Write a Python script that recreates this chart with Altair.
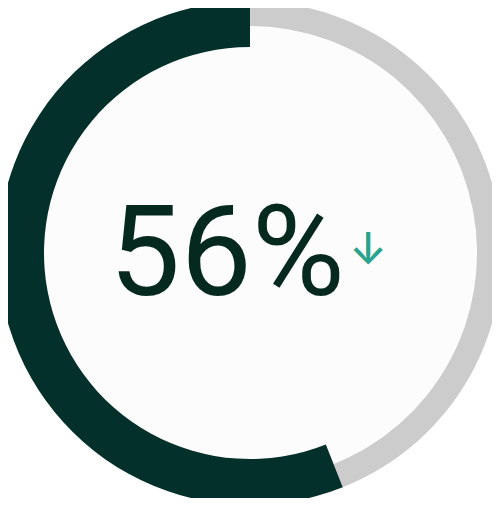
import altair as alt
import pandas as pd

# data
categories = ["remaining", "share"]
values = [44, 56]
order = [0, 1]
headline = "56%"
trend = "↓"

df = pd.DataFrame({"category": categories, "value": values, "order": order})
txt = pd.DataFrame({"headline": [headline], "trend": [trend]})

CX, CY = 242, 245
R_OUT = 252

base = alt.Chart(df).transform_stack(
    stack="value", groupby=[], as_=["v0", "v1"], sort=[alt.SortField("order")]
)
theta = alt.Theta("v0:Q", scale=alt.Scale(domain=[0, 100]))
theta2 = alt.Theta2("v1")

fill = base.mark_arc(radius=226, radius2=0, color="#fcfcfc").encode(
    theta=theta, theta2=theta2, x=alt.value(CX), y=alt.value(CY)
)
gray = base.transform_filter(alt.datum.category == "remaining").mark_arc(
    radius=R_OUT, radius2=R_OUT - 25, color="#cccccc"
).encode(theta=theta, theta2=theta2, x=alt.value(CX), y=alt.value(CY))
dark = base.transform_filter(alt.datum.category == "share").mark_arc(
    radius=R_OUT, radius2=R_OUT - 46, color="#03302a"
).encode(theta=theta, theta2=theta2, x=alt.value(CX), y=alt.value(CY))

label = alt.Chart(txt).mark_text(
    font="Roboto", fontSize=127, fontWeight=400, color="#06291f",
    align="center", baseline="alphabetic"
).encode(text="headline:N", x=alt.value(219), y=alt.value(287))

arrow = alt.Chart(txt).mark_text(
    font="Inter", fontSize=44, fontWeight=500, color="#29a38c",
    align="center", baseline="middle"
).encode(text="trend:N", x=alt.value(360), y=alt.value(243))

chart = alt.layer(fill, gray, dark, label, arrow).properties(
    width=484, height=490, padding=0, autosize="none", background="white"
).configure_view(stroke=None)

chart.save("out.html", embed_options={"renderer": "svg", "actions": False})
